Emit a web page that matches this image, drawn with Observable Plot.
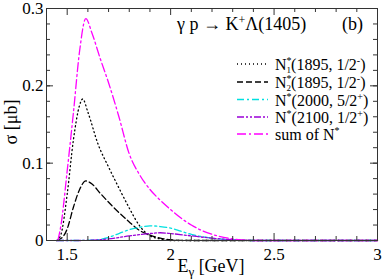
<!DOCTYPE html>
<html><head><meta charset="utf-8">
<script src="https://cdn.jsdelivr.net/npm/d3@7"></script>
<script src="https://cdn.jsdelivr.net/npm/@observablehq/plot@0.6"></script>
<style>
body{margin:0;background:#fff}
svg text { font-family: "Liberation Serif", serif !important; }
</style>
</head><body><div id="chart"></div>
<script>
// Data (E in GeV, sigma in microbarn)
const eN1 = [1.45,1.47,1.50,1.53,1.56,1.575,1.60,1.65,1.70,1.75,1.80,1.85,1.90,1.95,2.00,3.00];
const sN1 = [0,0.008,0.06,0.13,0.175,0.183,0.166,0.124,0.095,0.068,0.042,0.019,0.006,0.002,0,0];
const eN2 = [1.45,1.48,1.50,1.53,1.56,1.59,1.62,1.66,1.72,1.80,1.85,1.90,1.95,2.00,2.10,3.00];
const sN2 = [0,0.005,0.015,0.043,0.066,0.077,0.073,0.061,0.044,0.024,0.013,0.007,0.003,0.001,0,0];
const eN2000 = [1.45,1.55,1.65,1.70,1.75,1.80,1.85,1.90,1.95,2.00,2.05,2.10,2.15,2.20,2.30,2.40,3.00];
const sN2000 = [0,0,0.001,0.004,0.009,0.014,0.017,0.019,0.018,0.016,0.012,0.008,0.005,0.003,0.001,0,0];
const eN2100 = [1.45,1.55,1.70,1.80,1.90,1.95,2.00,2.10,2.20,2.30,2.40,3.00];
const sN2100 = [0,0,0.002,0.006,0.009,0.010,0.009,0.006,0.003,0.001,0,0];
const eSum = [1.455,1.47,1.50,1.53,1.56,1.59,1.62,1.66,1.70,1.75,1.80,1.85,1.90,1.95,2.00,2.05,2.10,2.15,2.20,2.30,2.40,3.00];
const sSum = [0,0.02,0.09,0.165,0.245,0.287,0.268,0.235,0.204,0.16,0.112,0.085,0.066,0.052,0.04,0.029,0.02,0.013,0.008,0.002,0,0];

const seriesNames = ["N1","N2","N2000","N2100","sum"];
const seriesColors = ["#000000","#000000","#00e0e0","#9a00d8","#ff00ff"];
const seriesDash = ["1,3","6,3","7,3,2,3","7,2,2,2,2,2","9,3,2,3"];

const xMajor = [1.5,2,2.5,3];
const xMinor = d3.range(14,31).map(d => d/10);
const yMajor = [0,0.1,0.2,0.3];
const yMinor = d3.range(0,16).map(d => d*0.02);

const W = 382, H = 279, mL = 46, mR = 5, mT = 8, mB = 39;
const fw = W - mL - mR, fh = H - mT - mB;
const FF = "Liberation Serif";

const rows = (e, s, k) => e.map((x, i) => ({x, y: s[i], k}));
const data = [rows(eN1,sN1,0), rows(eN2,sN2,1), rows(eN2000,sN2000,2), rows(eN2100,sN2100,3), rows(eSum,sSum,4)];

const lineMarks = data.map((d, i) => Plot.line(d, {x:"x", y:"y", curve:"monotone-x",
  stroke: seriesColors[i], strokeWidth: 1.3, strokeDasharray: seriesDash[i]}));

const xMinorOnly = xMinor.filter(v => !xMajor.some(m => Math.abs(m - v) < 1e-9));
const plot = Plot.plot({
  width: W, height: H,
  marginLeft: mL, marginRight: mR, marginTop: mT, marginBottom: mB,
  style: {background: "#fff", overflow: "visible", fontFamily: FF},
  x: {domain: [1.4, 3]},
  y: {domain: [0, 0.3]},
  marks: [
    ...lineMarks,
    Plot.frame({stroke: "#333", strokeWidth: 1}),
    Plot.tickX(xMajor, {x: d => d, insetTop: fh - 7, stroke: "#333"}),
    Plot.tickX(xMajor, {x: d => d, insetBottom: fh - 7, stroke: "#333"}),
    Plot.tickX(xMinorOnly, {x: d => d, insetTop: fh - 4, stroke: "#333"}),
    Plot.tickX(xMinorOnly, {x: d => d, insetBottom: fh - 4, stroke: "#333"}),
    Plot.tickY(yMajor, {y: d => d, insetRight: fw - 7, stroke: "#333"}),
    Plot.tickY(yMajor, {y: d => d, insetLeft: fw - 7, stroke: "#333"}),
    Plot.tickY(yMinor, {y: d => d, insetRight: fw - 4, stroke: "#333"}),
    Plot.tickY(yMinor, {y: d => d, insetLeft: fw - 4, stroke: "#333"}),
    Plot.axisX(xMajor, {tickSize: 0, tickPadding: 7, fontSize: 17, fontFamily: FF, label: null, tickFormat: d => String(d), fill: "#000"}),
    Plot.axisY(yMajor, {tickSize: 0, tickPadding: 3, fontSize: 17, fontFamily: FF, label: null, tickFormat: d => String(d), fill: "#000"})
  ]
});
document.getElementById("chart").appendChild(plot);

// Texts: axis titles, reaction label, legend
const svg = d3.select(plot);
const txt = (x, y, fs, anchor) => svg.append("text").attr("x", x).attr("y", y)
  .attr("text-anchor", anchor || "start").style("text-anchor", anchor || "start")
  .style("font-size", fs + "px").attr("fill", "#000");

svg.append("text").attr("transform", "translate(17,122) rotate(-90)")
  .style("text-anchor","middle").style("font-size","18px").attr("fill","#000").text("σ [μb]");
const xl = txt(211, 272, 18, "middle");
xl.append("tspan").text("E");
xl.append("tspan").attr("dy", 4).style("font-size", "13px").text("γ");
xl.append("tspan").attr("dy", -4).text(" [GeV]");

const tt = txt(177, 30, 18);
tt.append("tspan").text("γ p → K");
tt.append("tspan").attr("dy", -6).style("font-size", "12px").text("+");
tt.append("tspan").attr("dy", 6).text("Λ(1405)");
txt(342, 30, 18).text("(b)");

const legendY = [64, 82, 99.5, 117, 134];
// [text, dy, fontSize, dx]
const legendLabels = [
  [["N",0,16],["*",-6,10],["1",9,9,-5],["(1895, 1/2",-3,16],["-",-6,10],[")",6,16]],
  [["N",0,16],["*",-6,10],["2",9,9,-5],["(1895, 1/2",-3,16],["-",-6,10],[")",6,16]],
  [["N",0,16],["*",-6,10],["(2000, 5/2",6,16],["+",-6,10],[")",6,16]],
  [["N",0,16],["*",-6,10],["(2100, 1/2",6,16],["+",-6,10],[")",6,16]],
  [["sum of N",0,16],["*",-6,10]]
];
seriesNames.forEach((n, i) => {
  const y = legendY[i];
  svg.append("line").attr("x1", 237).attr("x2", 268).attr("y1", y).attr("y2", y)
    .attr("stroke", seriesColors[i]).attr("stroke-width", 1.3).attr("stroke-dasharray", seriesDash[i]);
  const t = txt(275, y + 6, 16);
  legendLabels[i].forEach(([s, dy, fs, dx]) => {
    const sp = t.append("tspan").attr("dy", dy).style("font-size", fs + "px").text(s);
    if (dx) sp.attr("dx", dx);
  });
});
</script></body></html>
